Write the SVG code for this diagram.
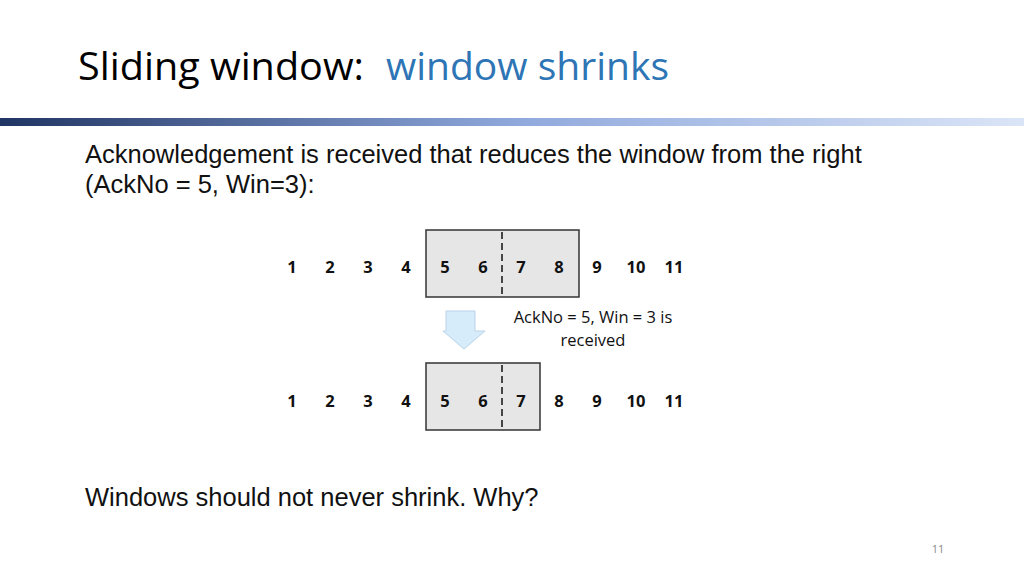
<svg xmlns="http://www.w3.org/2000/svg" width="1024" height="576" viewBox="0 0 1024 576">
<defs>
<linearGradient id="bar" x1="0" x2="1" y1="0" y2="0">
<stop offset="0" stop-color="#1f3563"/><stop offset="0.5" stop-color="#8fa8dc"/><stop offset="1" stop-color="#dbe5f7"/>
</linearGradient>
</defs>
<style>
.n{font-family:"Open Sans",sans-serif;font-weight:bold;font-size:16.5px;text-anchor:middle;fill:#111}
.b{font-family:"Liberation Sans",Arial,sans-serif;font-size:25.5px;fill:#111}
.box{fill:#e6e6e6;stroke:#333;stroke-width:1.5}
.dash{stroke:#111;stroke-width:1.5;stroke-dasharray:7,4}
</style>
<rect width="1024" height="576" fill="#fff"/>
<text x="78" y="80" font-family="Open Sans,sans-serif" font-size="39" fill="#000" textLength="286" lengthAdjust="spacingAndGlyphs">Sliding window:</text>
<text x="386" y="80" font-family="Open Sans,sans-serif" font-size="39" fill="#2e75b6" textLength="283" lengthAdjust="spacingAndGlyphs">window shrinks</text>
<rect x="0" y="118" width="1024" height="8" fill="url(#bar)"/>
<text class="b" x="85" y="163">Acknowledgement is received that reduces the window from the right</text>
<text class="b" x="85" y="193">(AckNo  = 5, Win=3):</text>
<g id="window1">
<rect class="box" x="426" y="230" width="153" height="67"/>
<line class="dash" x1="502" y1="232" x2="502" y2="296"/>
</g>
<g id="row1">
<text class="n" x="292" y="273">1</text><text class="n" x="330" y="273">2</text><text class="n" x="368" y="273">3</text><text class="n" x="406" y="273">4</text><text class="n" x="445" y="273">5</text><text class="n" x="483" y="273">6</text><text class="n" x="521" y="273">7</text><text class="n" x="559" y="273">8</text><text class="n" x="597" y="273">9</text><text class="n" x="636" y="273">10</text><text class="n" x="674" y="273">11</text>
</g>
<g id="arrow">
<polygon points="446,311 475,311 475,331 485,331 464,349 443,331 446,331" fill="#d6ecfb" stroke="#b9d3e8" stroke-width="1"/>
</g>
<g id="label" font-family="Open Sans,sans-serif" font-size="16.5" fill="#111" text-anchor="middle">
<text x="593" y="323">AckNo = 5, Win = 3  is</text>
<text x="593" y="346">received</text>
</g>
<g id="window2">
<rect class="box" x="426" y="363" width="114" height="67"/>
<line class="dash" x1="502" y1="365" x2="502" y2="429"/>
</g>
<g id="row2">
<text class="n" x="292" y="407">1</text><text class="n" x="330" y="407">2</text><text class="n" x="368" y="407">3</text><text class="n" x="406" y="407">4</text><text class="n" x="445" y="407">5</text><text class="n" x="483" y="407">6</text><text class="n" x="521" y="407">7</text><text class="n" x="559" y="407">8</text><text class="n" x="597" y="407">9</text><text class="n" x="636" y="407">10</text><text class="n" x="674" y="407">11</text>
</g>
<text class="b" x="85" y="506">Windows should not never shrink. Why?</text>
<text x="938" y="553" font-family="Open Sans,sans-serif" font-size="11" fill="#888" text-anchor="middle">11</text>
</svg>
